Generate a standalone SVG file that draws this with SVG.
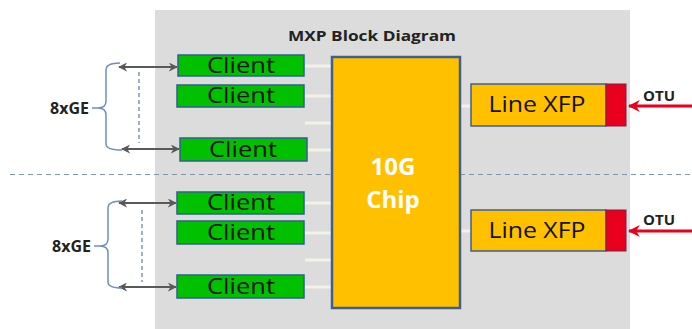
<svg xmlns="http://www.w3.org/2000/svg" width="692" height="329" viewBox="0 0 692 329">
<defs>
<style>
.client rect{fill:#00C000;stroke:#2F5F8F;stroke-width:1.5}
.client text{font-family:"Open Sans","Liberation Sans",sans-serif;font-size:21px;fill:#111;text-anchor:middle}
.xfp rect.body{fill:#FFC000;stroke:#3F5F8F;stroke-width:1.5}
.xfp rect.port{fill:#E8001C;stroke:#7F1F4F;stroke-width:1}
.xfp text{font-family:"Open Sans","Liberation Sans",sans-serif;font-size:21px;fill:#111;text-anchor:middle}
.lbl{font-family:"Open Sans","Liberation Sans",sans-serif;font-weight:bold;fill:#222}
.stub{stroke:#F2F2E6;stroke-width:3}
.brace{fill:none;stroke:#6E8FC0;stroke-width:1.5}
.dbl{stroke:#595959;stroke-width:2;marker-start:url(#ah);marker-end:url(#ah)}
.vdash{stroke:#7F97B8;stroke-width:1.5;stroke-dasharray:4 3}
.otu{stroke:#E8001C;stroke-width:3;marker-end:url(#red)}
</style>
<marker id="ah" viewBox="0 0 10 10" refX="9" refY="5" markerWidth="4.5" markerHeight="4.5" orient="auto-start-reverse" markerUnits="strokeWidth"><path d="M0,0 L10,5 L0,10 L3,5 Z" fill="#595959"/></marker>
<marker id="red" viewBox="0 0 10 10" refX="9" refY="5" markerWidth="4" markerHeight="4" orient="auto" markerUnits="strokeWidth"><path d="M0,0 L10,5 L0,10 L3,5 Z" fill="#E8001C"/></marker>
</defs>
<rect x="0" y="0" width="692" height="329" fill="#ffffff"/>
<rect x="155" y="10" width="475" height="319" fill="#DCDCDC"/>
<text class="lbl" x="372" y="41" font-size="15" text-anchor="middle" textLength="168" lengthAdjust="spacingAndGlyphs">MXP Block Diagram</text>

<g id="connectors">
<line class="stub" x1="305" y1="66" x2="332" y2="66"/>
<line class="stub" x1="305" y1="96" x2="332" y2="96"/>
<line class="stub" x1="305" y1="123" x2="332" y2="123"/>
<line class="stub" x1="307" y1="150" x2="332" y2="150"/>
<line class="stub" x1="305" y1="203" x2="332" y2="203"/>
<line class="stub" x1="305" y1="233" x2="332" y2="233"/>
<line class="stub" x1="305" y1="260" x2="332" y2="260"/>
<line class="stub" x1="305" y1="287" x2="332" y2="287"/>
<line class="stub" x1="461" y1="106" x2="471" y2="106"/>
<line class="stub" x1="461" y1="231" x2="471" y2="231"/>
<line x1="10" y1="174.5" x2="692" y2="174.5" stroke="#8096B0" stroke-width="1.2" stroke-dasharray="5 4"/>
<line class="dbl" x1="119" y1="67" x2="177" y2="67"/>
<line class="dbl" x1="122" y1="149" x2="179" y2="149"/>
<line class="vdash" x1="139" y1="72" x2="139" y2="143"/>
<line class="dbl" x1="119" y1="203" x2="176" y2="203"/>
<line class="dbl" x1="119" y1="287" x2="176" y2="287"/>
<line class="vdash" x1="142" y1="210" x2="142" y2="282"/>
<path class="brace" d="M120,63 Q106,63 106,70 L106,101 Q106,108 98,108 L92,108 M98,108 Q106,108 106,115 L106,144 Q106,150 122,150"/>
<path class="brace" d="M122,201 Q108,201 108,208 L108,239 Q108,246 100,246 L94,246 M100,246 Q108,246 108,253 L108,282 Q108,288 122,288"/>
<line class="otu" x1="692" y1="106" x2="629" y2="106"/>
<line class="otu" x1="692" y1="231" x2="629" y2="231"/>
</g>

<g id="ge-top"><text class="lbl" x="89" y="114" font-size="16" text-anchor="end">8xGE</text></g>
<g id="ge-bottom"><text class="lbl" x="91" y="252" font-size="16" text-anchor="end">8xGE</text></g>

<g id="client1" class="client"><rect x="178" y="55" width="126" height="21"/><text x="241" y="73" textLength="68" lengthAdjust="spacingAndGlyphs">Client</text></g>
<g id="client2" class="client"><rect x="177" y="85" width="127" height="22"/><text x="241" y="103" textLength="68" lengthAdjust="spacingAndGlyphs">Client</text></g>
<g id="client3" class="client"><rect x="180" y="138" width="127" height="23"/><text x="243" y="157" textLength="68" lengthAdjust="spacingAndGlyphs">Client</text></g>
<g id="client4" class="client"><rect x="177" y="192" width="127" height="22"/><text x="241" y="210" textLength="68" lengthAdjust="spacingAndGlyphs">Client</text></g>
<g id="client5" class="client"><rect x="177" y="221" width="127" height="23"/><text x="241" y="240" textLength="68" lengthAdjust="spacingAndGlyphs">Client</text></g>
<g id="client6" class="client"><rect x="177" y="275" width="127" height="23"/><text x="241" y="294" textLength="68" lengthAdjust="spacingAndGlyphs">Client</text></g>

<g id="chip">
<rect x="332" y="57" width="128" height="251" fill="#FFC000" stroke="#3F5F8F" stroke-width="2.5"/>
<text class="lbl" x="393" y="175" font-size="24" text-anchor="middle" style="fill:#fff">10G</text>
<text class="lbl" x="393" y="208" font-size="24" text-anchor="middle" style="fill:#fff">Chip</text>
</g>

<g id="xfp1" class="xfp"><rect class="body" x="471" y="84" width="135" height="42"/><rect class="port" x="606" y="84" width="20" height="42"/><text x="537" y="112" textLength="97" lengthAdjust="spacingAndGlyphs">Line XFP</text></g>
<g id="xfp2" class="xfp"><rect class="body" x="471" y="210" width="135" height="41"/><rect class="port" x="606" y="210" width="20" height="41"/><text x="537" y="238" textLength="97" lengthAdjust="spacingAndGlyphs">Line XFP</text></g>

<g id="otu1"><text class="lbl" x="643" y="101" font-size="15">OTU</text></g>
<g id="otu2"><text class="lbl" x="643" y="225" font-size="15">OTU</text></g>
</svg>
